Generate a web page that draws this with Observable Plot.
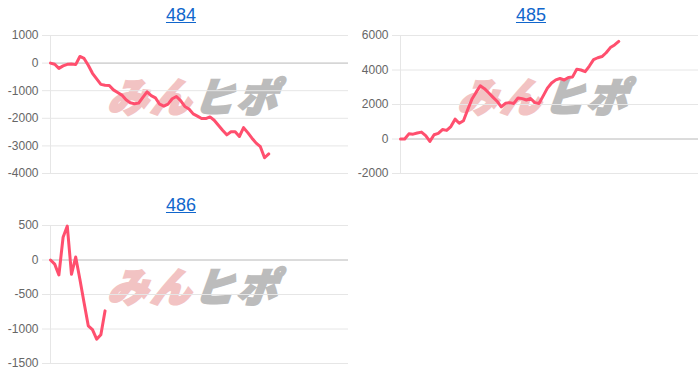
<!DOCTYPE html>
<html>
<head>
<meta charset="utf-8">
<script src="https://cdn.jsdelivr.net/npm/d3@7"></script>
<script src="https://cdn.jsdelivr.net/npm/@observablehq/plot@0.6"></script>
<style>
  body { margin: 0; background: #fff; }
  #wrap { position: relative; width: 700px; height: 378px; overflow: hidden; font-family: "Liberation Sans", Arial, Helvetica, sans-serif; }
  .panel { position: absolute; width: 350px; height: 190px; }
  .title { position: absolute; top: 6px; left: 0; width: 362px; text-align: center; font-size: 18px; line-height: 18px; }
  .title a { color: #1166cc; text-decoration: underline; }
  .wm { position: absolute; left: 113px; top: 74px; white-space: nowrap; font-family: "Noto Sans CJK JP", sans-serif; font-weight: 900; font-size: 40px; line-height: 42px; transform: skewX(-20deg); letter-spacing: 3px; }
  .wm .a { color: #f2c3c3; -webkit-text-stroke: 2.5px #f2c3c3; }
  .wm .b { color: #bcbcbc; -webkit-text-stroke: 2.5px #bcbcbc; }
  .panel svg { position: absolute; left: 0; top: 28px; }
</style>
</head>
<body>
<div id="wrap"></div>
<script>
// Panel titles
const titles = ["484", "485", "486"];
// Cumulative values per game index
const values484 = [0, -40, -190, -100, -45, -36, -55, 241, 170, -80, -370, -570, -770, -800, -810, -970, -1065, -1160, -1330, -1440, -1470, -1450, -1240, -1040, -1180, -1260, -1490, -1560, -1485, -1290, -1210, -1360, -1570, -1660, -1840, -1920, -2010, -2010, -1950, -2070, -2250, -2430, -2600, -2490, -2490, -2660, -2340, -2520, -2720, -2900, -3030, -3430, -3290];
const values485 = [0, 0, 300, 280, 350, 400, 200, -140, 245, 325, 545, 500, 720, 1150, 910, 1060, 1700, 2300, 2700, 3080, 2920, 2680, 2430, 2190, 1860, 2070, 2100, 2060, 2380, 2340, 2260, 2350, 2110, 2060, 2500, 2950, 3250, 3430, 3510, 3420, 3570, 3600, 4050, 4000, 3900, 4230, 4600, 4710, 4780, 5000, 5300, 5450, 5660];
const values486 = [0, -60, -217, 330, 492, -207, 43, -280, -620, -954, -1010, -1147, -1084, -737];
// Y tick labels per panel
const ticks484 = [1000, 0, -1000, -2000, -3000, -4000];
const ticks485 = [6000, 4000, 2000, 0, -2000];
const ticks486 = [500, 0, -500, -1000, -1500];
// Shared x index domain (number of slots on the category axis)
const xSlots = 71;

const panels = [
  {title: titles[0], values: values484, ticks: ticks484, left: 0, top: 0},
  {title: titles[1], values: values485, ticks: ticks485, left: 350, top: 0},
  {title: titles[2], values: values486, ticks: ticks486, left: 0, top: 190}
];

const wrap = document.getElementById("wrap");
for (const p of panels) {
  const div = document.createElement("div");
  div.className = "panel";
  div.style.left = p.left + "px";
  div.style.top = p.top + "px";
  div.innerHTML = `<div class="title"><a href="#">${p.title}</a></div><div class="wm"><span class="a">みん</span><span class="b">ヒポ</span></div>`;
  const data = p.values.map((v, i) => ({i, v}));
  const yDomain = d3.extent(p.ticks);
  const svg = Plot.plot({
    width: 350,
    height: 162,
    marginLeft: 50,
    marginRight: 2,
    marginTop: 7,
    marginBottom: 17,
    style: {background: "transparent", fontFamily: "'Liberation Sans', Arial, Helvetica, sans-serif", fontSize: "12px", overflow: "visible"},
    x: {domain: [0, xSlots], axis: null},
    y: {domain: yDomain, label: null},
    marks: [
      Plot.gridY(p.ticks, {stroke: "#e6e6e6", strokeOpacity: 1}),
      Plot.axisY(p.ticks, {label: null, tickSize: 8, tickPadding: 4, stroke: "#e6e6e6", color: "#666", fill: "#666", tickFormat: d => String(d)}),
      Plot.ruleY([0], {stroke: "#c4c4c4"}),
      Plot.ruleX([0], {stroke: "#e6e6e6"}),
      Plot.lineY(data, {x: "i", y: "v", stroke: "#ff4f6e", strokeWidth: 3, strokeLinejoin: "round"})
    ]
  });
  div.appendChild(svg);
  wrap.appendChild(div);
}
</script>
</body>
</html>
